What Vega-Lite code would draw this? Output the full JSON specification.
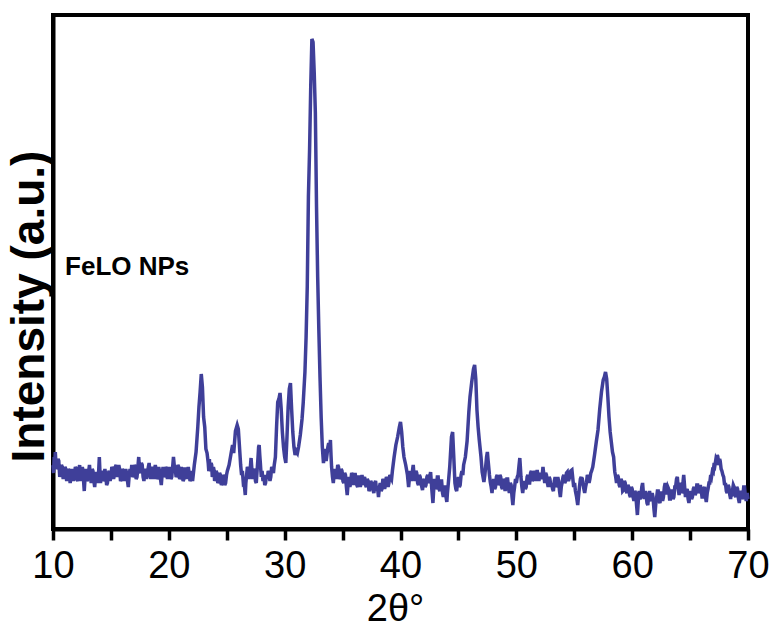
{
  "$schema": "https://vega.github.io/schema/vega-lite/v6.json",
  "width": 695,
  "height": 514,
  "autosize": "none",
  "padding": {"left": 53, "top": 15, "right": 21, "bottom": 100},
  "background": "white",
  "config": {
    "view": {"stroke": "black", "strokeWidth": 4},
    "axis": {"grid": false, "domainColor": "black", "domainWidth": 4}
  },
  "layer": [
    {
      "data": {"values": [
        {"t":10.0,"i":62},{"t":10.05,"i":54},{"t":10.1,"i":70},{"t":10.15,"i":64},{"t":10.2,"i":75},{"t":10.28,"i":58},{"t":10.35,"i":60},{"t":10.43,"i":68},{"t":10.5,"i":66},{"t":10.58,"i":50},{"t":10.65,"i":54},{"t":10.73,"i":62},{"t":10.8,"i":60},{"t":10.88,"i":48},{"t":10.95,"i":52},{"t":11.03,"i":60},{"t":11.1,"i":58},{"t":11.18,"i":46},{"t":11.25,"i":50},{"t":11.33,"i":58},{"t":11.4,"i":56},{"t":11.48,"i":44},{"t":11.55,"i":48},{"t":11.63,"i":58},{"t":11.7,"i":55},{"t":11.78,"i":46},{"t":11.85,"i":50},{"t":11.93,"i":60},{"t":12.0,"i":58},{"t":12.08,"i":48},{"t":12.15,"i":46},{"t":12.23,"i":58},{"t":12.3,"i":62},{"t":12.38,"i":46},{"t":12.45,"i":50},{"t":12.53,"i":60},{"t":12.6,"i":56},{"t":12.65,"i":44},{"t":12.7,"i":36},{"t":12.78,"i":52},{"t":12.85,"i":58},{"t":12.93,"i":46},{"t":13.0,"i":48},{"t":13.08,"i":56},{"t":13.15,"i":62},{"t":13.23,"i":50},{"t":13.3,"i":44},{"t":13.38,"i":58},{"t":13.45,"i":56},{"t":13.53,"i":46},{"t":13.6,"i":40},{"t":13.68,"i":52},{"t":13.75,"i":55},{"t":13.83,"i":44},{"t":13.9,"i":48},{"t":13.95,"i":58},{"t":14.0,"i":70},{"t":14.05,"i":56},{"t":14.1,"i":44},{"t":14.18,"i":54},{"t":14.25,"i":56},{"t":14.33,"i":46},{"t":14.4,"i":48},{"t":14.48,"i":58},{"t":14.55,"i":52},{"t":14.63,"i":42},{"t":14.7,"i":44},{"t":14.78,"i":54},{"t":14.85,"i":56},{"t":14.93,"i":46},{"t":15.0,"i":50},{"t":15.08,"i":60},{"t":15.15,"i":58},{"t":15.23,"i":48},{"t":15.3,"i":52},{"t":15.38,"i":60},{"t":15.45,"i":62},{"t":15.53,"i":50},{"t":15.6,"i":54},{"t":15.68,"i":62},{"t":15.75,"i":58},{"t":15.83,"i":46},{"t":15.9,"i":48},{"t":15.98,"i":58},{"t":16.05,"i":56},{"t":16.13,"i":46},{"t":16.2,"i":50},{"t":16.28,"i":58},{"t":16.35,"i":54},{"t":16.43,"i":46},{"t":16.5,"i":40},{"t":16.58,"i":52},{"t":16.65,"i":58},{"t":16.73,"i":52},{"t":16.8,"i":62},{"t":16.88,"i":50},{"t":16.95,"i":52},{"t":17.03,"i":62},{"t":17.1,"i":60},{"t":17.18,"i":48},{"t":17.25,"i":50},{"t":17.33,"i":60},{"t":17.4,"i":70},{"t":17.48,"i":56},{"t":17.55,"i":54},{"t":17.63,"i":64},{"t":17.7,"i":62},{"t":17.78,"i":50},{"t":17.85,"i":46},{"t":17.93,"i":56},{"t":18.0,"i":58},{"t":18.08,"i":48},{"t":18.15,"i":52},{"t":18.23,"i":60},{"t":18.3,"i":64},{"t":18.38,"i":52},{"t":18.45,"i":48},{"t":18.53,"i":58},{"t":18.6,"i":60},{"t":18.68,"i":48},{"t":18.75,"i":52},{"t":18.83,"i":62},{"t":18.9,"i":58},{"t":18.98,"i":48},{"t":19.05,"i":50},{"t":19.13,"i":60},{"t":19.2,"i":56},{"t":19.28,"i":48},{"t":19.35,"i":42},{"t":19.43,"i":54},{"t":19.5,"i":60},{"t":19.58,"i":50},{"t":19.65,"i":52},{"t":19.73,"i":60},{"t":19.8,"i":58},{"t":19.88,"i":48},{"t":19.95,"i":54},{"t":20.03,"i":60},{"t":20.1,"i":56},{"t":20.18,"i":48},{"t":20.25,"i":50},{"t":20.33,"i":60},{"t":20.4,"i":70},{"t":20.48,"i":60},{"t":20.55,"i":58},{"t":20.63,"i":50},{"t":20.7,"i":52},{"t":20.78,"i":62},{"t":20.85,"i":60},{"t":20.93,"i":48},{"t":21.0,"i":50},{"t":21.08,"i":60},{"t":21.15,"i":56},{"t":21.23,"i":46},{"t":21.3,"i":48},{"t":21.38,"i":58},{"t":21.45,"i":58},{"t":21.53,"i":48},{"t":21.6,"i":52},{"t":21.68,"i":60},{"t":21.75,"i":54},{"t":21.83,"i":46},{"t":21.9,"i":48},{"t":21.98,"i":56},{"t":22.05,"i":46},
        {"t":22.2,"i":62},{"t":22.35,"i":75},{"t":22.5,"i":100},{"t":22.6,"i":120},{"t":22.7,"i":135},{"t":22.8,"i":153},{"t":22.9,"i":140},{"t":23.0,"i":110},{"t":23.1,"i":100},{"t":23.2,"i":78},{"t":23.3,"i":74},
        {"t":23.4,"i":64},{"t":23.45,"i":56},{"t":23.5,"i":68},{"t":23.55,"i":58},{"t":23.6,"i":56},{"t":23.65,"i":64},{"t":23.7,"i":62},{"t":23.75,"i":50},{"t":23.8,"i":52},{"t":23.85,"i":60},{"t":23.9,"i":57},{"t":23.95,"i":46},{"t":24.0,"i":48},{"t":24.08,"i":56},{"t":24.15,"i":54},{"t":24.23,"i":44},{"t":24.3,"i":46},{"t":24.38,"i":54},{"t":24.45,"i":52},{"t":24.53,"i":42},{"t":24.6,"i":44},{"t":24.68,"i":52},{"t":24.75,"i":50},{"t":24.83,"i":42},{"t":24.9,"i":44},{"t":24.98,"i":52},{"t":25.05,"i":56},
        {"t":25.2,"i":62},{"t":25.35,"i":72},{"t":25.5,"i":82},{"t":25.6,"i":74},{"t":25.75,"i":96},{"t":25.9,"i":102},{"t":26.0,"i":98},{"t":26.1,"i":80},
        {"t":26.2,"i":62},{"t":26.28,"i":52},{"t":26.35,"i":56},{"t":26.43,"i":44},{"t":26.5,"i":45},{"t":26.55,"i":38},{"t":26.6,"i":32},{"t":26.65,"i":44},{"t":26.7,"i":50},{"t":26.78,"i":60},{"t":26.85,"i":58},{"t":26.93,"i":48},{"t":27.0,"i":52},{"t":27.05,"i":62},{"t":27.1,"i":69},{"t":27.18,"i":56},{"t":27.25,"i":48},{"t":27.33,"i":58},{"t":27.4,"i":56},{"t":27.48,"i":46},{"t":27.55,"i":44},{"t":27.63,"i":58},{"t":27.7,"i":70},{"t":27.75,"i":80},{"t":27.8,"i":82},{"t":27.85,"i":72},{"t":27.9,"i":64},{"t":27.98,"i":50},{"t":28.05,"i":56},{"t":28.13,"i":46},{"t":28.2,"i":52},{"t":28.28,"i":42},{"t":28.35,"i":44},{"t":28.43,"i":52},{"t":28.5,"i":48},{"t":28.58,"i":56},{"t":28.65,"i":54},{"t":28.73,"i":46},{"t":28.8,"i":50},{"t":28.88,"i":60},{"t":28.95,"i":58},{"t":29.03,"i":54},{"t":29.1,"i":62},
        {"t":29.2,"i":70},{"t":29.3,"i":100},{"t":29.4,"i":125},{"t":29.5,"i":128},{"t":29.6,"i":134},{"t":29.7,"i":118},{"t":29.8,"i":95},{"t":29.9,"i":80},{"t":30.0,"i":70},{"t":30.1,"i":64},{"t":30.2,"i":90},{"t":30.3,"i":120},{"t":30.4,"i":138},{"t":30.5,"i":144},{"t":30.6,"i":118},{"t":30.7,"i":95},{"t":30.8,"i":80},{"t":30.9,"i":72},{"t":31.0,"i":76},{"t":31.1,"i":74},{"t":31.2,"i":80},{"t":31.35,"i":92},{"t":31.5,"i":108},{"t":31.6,"i":124},{"t":31.75,"i":155},{"t":31.85,"i":190},{"t":31.95,"i":240},{"t":32.05,"i":330},{"t":32.15,"i":377},{"t":32.25,"i":440},{"t":32.35,"i":488},{"t":32.45,"i":485},{"t":32.55,"i":455},{"t":32.65,"i":414},{"t":32.75,"i":320},{"t":32.85,"i":250},{"t":32.95,"i":197},{"t":33.05,"i":150},{"t":33.15,"i":110},{"t":33.25,"i":80},
        {"t":33.35,"i":64},{"t":33.43,"i":72},{"t":33.5,"i":78},{"t":33.58,"i":66},{"t":33.65,"i":72},{"t":33.73,"i":80},{"t":33.8,"i":84},{"t":33.88,"i":76},{"t":33.95,"i":87},{"t":34.0,"i":72},{"t":34.05,"i":60},{"t":34.13,"i":50},{"t":34.2,"i":44},{"t":34.28,"i":54},{"t":34.35,"i":58},{"t":34.43,"i":48},{"t":34.5,"i":52},{"t":34.58,"i":62},{"t":34.65,"i":60},{"t":34.73,"i":48},{"t":34.8,"i":50},{"t":34.88,"i":58},{"t":34.95,"i":56},{"t":35.03,"i":46},{"t":35.1,"i":44},{"t":35.18,"i":54},{"t":35.25,"i":52},{"t":35.33,"i":40},{"t":35.4,"i":32},{"t":35.48,"i":44},{"t":35.55,"i":50},{"t":35.63,"i":40},{"t":35.7,"i":44},{"t":35.78,"i":54},{"t":35.85,"i":52},{"t":35.93,"i":42},{"t":36.0,"i":46},{"t":36.08,"i":54},{"t":36.15,"i":48},{"t":36.23,"i":42},{"t":36.3,"i":40},{"t":36.38,"i":50},{"t":36.45,"i":50},{"t":36.53,"i":40},{"t":36.6,"i":44},{"t":36.68,"i":52},{"t":36.75,"i":42},{"t":36.83,"i":48},{"t":36.9,"i":50},{"t":36.98,"i":42},{"t":37.05,"i":40},{"t":37.13,"i":48},{"t":37.2,"i":46},{"t":37.28,"i":36},{"t":37.35,"i":38},{"t":37.43,"i":46},{"t":37.5,"i":44},{"t":37.6,"i":38},{"t":37.7,"i":34},{"t":37.78,"i":44},{"t":37.85,"i":46},{"t":37.93,"i":36},{"t":38.0,"i":40},{"t":38.05,"i":36},{"t":38.1,"i":30},{"t":38.18,"i":40},{"t":38.25,"i":44},{"t":38.33,"i":36},{"t":38.4,"i":38},{"t":38.48,"i":48},{"t":38.55,"i":46},{"t":38.63,"i":38},{"t":38.7,"i":42},{"t":38.78,"i":50},{"t":38.85,"i":48},{"t":38.93,"i":40},{"t":39.0,"i":44},{"t":39.08,"i":52},{"t":39.15,"i":50},{"t":39.23,"i":48},{"t":39.3,"i":56},
        {"t":39.45,"i":70},{"t":39.6,"i":82},{"t":39.75,"i":90},{"t":39.9,"i":100},{"t":40.0,"i":105},{"t":40.1,"i":95},{"t":40.2,"i":80},{"t":40.3,"i":70},{"t":40.45,"i":62},
        {"t":40.6,"i":52},{"t":40.65,"i":46},{"t":40.7,"i":40},{"t":40.78,"i":50},{"t":40.85,"i":56},{"t":40.93,"i":46},{"t":41.0,"i":50},{"t":41.05,"i":58},{"t":41.1,"i":62},{"t":41.18,"i":50},{"t":41.25,"i":46},{"t":41.33,"i":56},{"t":41.4,"i":54},{"t":41.48,"i":44},{"t":41.55,"i":42},{"t":41.63,"i":52},{"t":41.7,"i":50},{"t":41.8,"i":42},{"t":41.9,"i":37},{"t":41.98,"i":46},{"t":42.05,"i":48},{"t":42.13,"i":40},{"t":42.2,"i":42},{"t":42.28,"i":50},{"t":42.35,"i":52},{"t":42.43,"i":44},{"t":42.5,"i":46},{"t":42.55,"i":52},{"t":42.6,"i":55},{"t":42.7,"i":38},{"t":42.8,"i":24},{"t":42.88,"i":40},{"t":42.95,"i":48},{"t":43.03,"i":38},{"t":43.1,"i":40},{"t":43.18,"i":50},{"t":43.25,"i":50},{"t":43.33,"i":38},{"t":43.4,"i":36},{"t":43.48,"i":46},{"t":43.55,"i":46},{"t":43.63,"i":34},{"t":43.7,"i":30},{"t":43.78,"i":40},{"t":43.85,"i":40},{"t":43.93,"i":30},{"t":44.0,"i":25},{"t":44.05,"i":34},{"t":44.1,"i":40},
        {"t":44.25,"i":60},{"t":44.4,"i":90},{"t":44.5,"i":95},{"t":44.6,"i":70},
        {"t":44.7,"i":44},{"t":44.78,"i":38},{"t":44.85,"i":36},{"t":44.93,"i":46},{"t":45.0,"i":50},{"t":45.08,"i":40},{"t":45.15,"i":42},{"t":45.23,"i":52},{"t":45.3,"i":56},{"t":45.38,"i":52},{"t":45.45,"i":62},
        {"t":45.6,"i":70},{"t":45.75,"i":86},{"t":45.9,"i":115},{"t":46.0,"i":130},{"t":46.15,"i":145},{"t":46.3,"i":158},{"t":46.4,"i":162},{"t":46.5,"i":148},{"t":46.6,"i":117},{"t":46.7,"i":100},{"t":46.8,"i":87},{"t":46.95,"i":70},{"t":47.05,"i":55},
        {"t":47.2,"i":45},{"t":47.28,"i":52},{"t":47.35,"i":60},{"t":47.43,"i":70},{"t":47.5,"i":75},{"t":47.55,"i":68},{"t":47.6,"i":62},{"t":47.68,"i":52},{"t":47.75,"i":45},{"t":47.83,"i":40},{"t":47.9,"i":34},{"t":47.98,"i":44},{"t":48.05,"i":48},{"t":48.13,"i":38},{"t":48.2,"i":40},{"t":48.28,"i":50},{"t":48.35,"i":52},{"t":48.43,"i":42},{"t":48.5,"i":44},{"t":48.58,"i":52},{"t":48.65,"i":50},{"t":48.73,"i":40},{"t":48.8,"i":38},{"t":48.88,"i":48},{"t":48.95,"i":46},{"t":49.03,"i":36},{"t":49.1,"i":40},{"t":49.18,"i":48},{"t":49.25,"i":48},{"t":49.33,"i":38},{"t":49.4,"i":34},{"t":49.48,"i":44},{"t":49.55,"i":42},{"t":49.63,"i":30},{"t":49.7,"i":22},{"t":49.78,"i":34},{"t":49.85,"i":40},{"t":49.93,"i":48},{"t":50.0,"i":44},{"t":50.08,"i":50},{"t":50.15,"i":52},{"t":50.22,"i":60},{"t":50.3,"i":69},{"t":50.35,"i":60},{"t":50.4,"i":50},{"t":50.48,"i":40},{"t":50.55,"i":34},{"t":50.63,"i":42},{"t":50.7,"i":46},{"t":50.78,"i":38},{"t":50.85,"i":40},{"t":50.93,"i":50},{"t":51.0,"i":52},{"t":51.08,"i":44},{"t":51.15,"i":44},{"t":51.23,"i":54},{"t":51.3,"i":56},{"t":51.38,"i":46},{"t":51.45,"i":48},{"t":51.53,"i":56},{"t":51.6,"i":54},{"t":51.7,"i":46},{"t":51.8,"i":57},{"t":51.88,"i":50},{"t":51.95,"i":46},{"t":52.03,"i":54},{"t":52.1,"i":52},{"t":52.2,"i":48},{"t":52.3,"i":60},{"t":52.38,"i":52},{"t":52.45,"i":44},{"t":52.53,"i":54},{"t":52.6,"i":52},{"t":52.68,"i":44},{"t":52.75,"i":40},{"t":52.83,"i":50},{"t":52.9,"i":48},{"t":52.98,"i":40},{"t":53.05,"i":44},{"t":53.13,"i":38},{"t":53.2,"i":36},{"t":53.28,"i":46},{"t":53.35,"i":50},{"t":53.43,"i":40},{"t":53.5,"i":42},{"t":53.58,"i":50},{"t":53.65,"i":46},{"t":53.73,"i":36},{"t":53.8,"i":30},{"t":53.88,"i":40},{"t":53.95,"i":44},{"t":54.03,"i":50},{"t":54.1,"i":52},{"t":54.18,"i":44},{"t":54.25,"i":46},{"t":54.33,"i":54},{"t":54.4,"i":55},{"t":54.5,"i":46},{"t":54.6,"i":50},{"t":54.7,"i":56},{"t":54.8,"i":57},{"t":54.88,"i":48},{"t":54.95,"i":40},{"t":55.03,"i":44},{"t":55.1,"i":36},{"t":55.2,"i":30},{"t":55.3,"i":22},{"t":55.38,"i":32},{"t":55.45,"i":40},{"t":55.53,"i":48},{"t":55.6,"i":50},{"t":55.68,"i":42},{"t":55.75,"i":44},{"t":55.83,"i":38},{"t":55.9,"i":34},{"t":55.98,"i":40},{"t":56.05,"i":44},{"t":56.13,"i":52},{"t":56.2,"i":50},{"t":56.28,"i":44},{"t":56.35,"i":48},{"t":56.43,"i":54},{"t":56.5,"i":56},
        {"t":56.6,"i":60},{"t":56.75,"i":72},{"t":56.9,"i":85},{"t":57.05,"i":97},{"t":57.2,"i":118},{"t":57.35,"i":135},{"t":57.5,"i":147},{"t":57.6,"i":150},{"t":57.7,"i":155},{"t":57.8,"i":148},{"t":57.9,"i":130},{"t":58.0,"i":110},{"t":58.1,"i":95},{"t":58.2,"i":85},{"t":58.3,"i":75},
        {"t":58.4,"i":70},{"t":58.45,"i":62},{"t":58.5,"i":55},{"t":58.58,"i":50},{"t":58.65,"i":44},{"t":58.73,"i":52},{"t":58.8,"i":50},{"t":58.88,"i":42},{"t":58.95,"i":40},{"t":59.03,"i":48},{"t":59.1,"i":46},{"t":59.18,"i":36},{"t":59.25,"i":37},{"t":59.33,"i":46},{"t":59.4,"i":44},{"t":59.48,"i":36},{"t":59.55,"i":34},{"t":59.63,"i":42},{"t":59.7,"i":40},{"t":59.78,"i":32},{"t":59.85,"i":30},{"t":59.93,"i":40},{"t":60.0,"i":38},{"t":60.08,"i":30},{"t":60.15,"i":26},{"t":60.23,"i":36},{"t":60.3,"i":34},{"t":60.38,"i":22},{"t":60.45,"i":12},{"t":60.53,"i":26},{"t":60.6,"i":36},{"t":60.68,"i":28},{"t":60.75,"i":30},{"t":60.83,"i":40},{"t":60.9,"i":44},{"t":60.98,"i":32},{"t":61.05,"i":28},{"t":61.13,"i":36},{"t":61.2,"i":32},{"t":61.28,"i":24},{"t":61.35,"i":22},{"t":61.43,"i":32},{"t":61.5,"i":36},{"t":61.58,"i":28},{"t":61.65,"i":26},{"t":61.73,"i":34},{"t":61.8,"i":30},{"t":61.88,"i":18},{"t":61.95,"i":10},{"t":62.03,"i":22},{"t":62.1,"i":28},{"t":62.18,"i":36},{"t":62.25,"i":36},{"t":62.33,"i":26},{"t":62.4,"i":24},{"t":62.48,"i":34},{"t":62.55,"i":34},{"t":62.63,"i":26},{"t":62.7,"i":30},{"t":62.78,"i":40},{"t":62.85,"i":44},{"t":62.93,"i":34},{"t":63.0,"i":34},{"t":63.08,"i":40},{"t":63.15,"i":38},{"t":63.23,"i":28},{"t":63.3,"i":28},{"t":63.38,"i":36},{"t":63.45,"i":36},{"t":63.53,"i":28},{"t":63.6,"i":30},{"t":63.68,"i":40},{"t":63.75,"i":40},{"t":63.83,"i":48},{"t":63.9,"i":50},{"t":63.98,"i":38},{"t":64.05,"i":32},{"t":64.13,"i":42},{"t":64.2,"i":44},{"t":64.28,"i":34},{"t":64.35,"i":36},{"t":64.4,"i":46},{"t":64.45,"i":52},{"t":64.53,"i":40},{"t":64.6,"i":30},{"t":64.68,"i":36},{"t":64.75,"i":38},{"t":64.83,"i":28},{"t":64.9,"i":24},{"t":64.98,"i":32},{"t":65.05,"i":36},{"t":65.13,"i":28},{"t":65.2,"i":30},{"t":65.28,"i":38},{"t":65.35,"i":40},{"t":65.43,"i":32},{"t":65.5,"i":34},{"t":65.58,"i":42},{"t":65.65,"i":42},{"t":65.73,"i":34},{"t":65.8,"i":36},{"t":65.88,"i":42},{"t":65.95,"i":38},{"t":66.03,"i":30},{"t":66.1,"i":30},{"t":66.18,"i":38},{"t":66.25,"i":40},{"t":66.33,"i":30},{"t":66.4,"i":25},{"t":66.48,"i":34},{"t":66.55,"i":38},{"t":66.63,"i":44},{"t":66.7,"i":44},{"t":66.78,"i":52},{"t":66.85,"i":50},{"t":66.93,"i":56},{"t":67.0,"i":55},{"t":67.08,"i":64},{"t":67.15,"i":62},{"t":67.23,"i":68},{"t":67.3,"i":66},{"t":67.35,"i":72},{"t":67.4,"i":70},{"t":67.45,"i":62},{"t":67.5,"i":64},{"t":67.55,"i":68},{"t":67.6,"i":66},{"t":67.68,"i":58},{"t":67.75,"i":56},{"t":67.83,"i":52},{"t":67.9,"i":50},{"t":67.98,"i":42},{"t":68.05,"i":44},{"t":68.13,"i":36},{"t":68.2,"i":34},{"t":68.28,"i":42},{"t":68.35,"i":40},{"t":68.43,"i":32},{"t":68.5,"i":28},{"t":68.58,"i":38},{"t":68.65,"i":36},{"t":68.73,"i":42},{"t":68.8,"i":40},{"t":68.88,"i":32},{"t":68.95,"i":30},{"t":69.03,"i":40},{"t":69.1,"i":38},{"t":69.18,"i":28},{"t":69.25,"i":24},{"t":69.33,"i":34},{"t":69.4,"i":36},{"t":69.48,"i":28},{"t":69.55,"i":30},{"t":69.63,"i":40},{"t":69.7,"i":40},{"t":69.78,"i":30},{"t":69.85,"i":26},{"t":69.93,"i":34},{"t":70.0,"i":28}
      ]},
      "mark": {"type": "line", "color": "#3f3f99", "strokeWidth": 3.5, "strokeJoin": "miter"},
      "encoding": {
        "x": {
          "field": "t", "type": "quantitative",
          "scale": {"domain": [10, 70], "nice": false, "zero": false},
          "axis": {
            "values": [10, 15, 20, 25, 30, 35, 40, 45, 50, 55, 60, 65, 70],
            "labelExpr": "datum.value % 10 === 0 ? datum.label : ''",
            "tickSize": 11,
            "tickWidth": 3.5,
            "tickColor": "black",
            "labelFont": "Liberation Sans, Arial",
            "labelFontSize": 38,
            "labelColor": "black",
            "labelBaseline": "alphabetic",
            "labelPadding": 37,
            "labelFlush": false,
            "labelOverlap": false,
            "title": "2θ°",
            "titleFont": "Liberation Sans, Arial",
            "titleFontSize": 38,
            "titleFontWeight": "normal",
            "titleColor": "black",
            "titleBaseline": "alphabetic",
            "titleAlign": "center",
            "titleX": 342,
            "titleY": 91,
            "encode": {"ticks": {"update": {"y2": {"signal": "datum.value % 10 === 0 ? 11 : 5"}}}}
          }
        },
        "y": {
          "field": "i", "type": "quantitative",
          "scale": {"domain": [-2, 512], "nice": false, "zero": false},
          "axis": {
            "ticks": false,
            "labels": false,
            "title": "Intensity (a.u.)",
            "titleFont": "Liberation Sans, Arial",
            "titleFontSize": 46,
            "titleFontWeight": "bold",
            "titleColor": "black",
            "titleBaseline": "alphabetic",
            "titleAlign": "center",
            "titleAngle": -90,
            "titleX": -10,
            "titleY": 291
          }
        }
      }
    },
    {
      "data": {"values": [{"t": 11.04, "i": 252, "label": "FeLO NPs"}]},
      "mark": {"type": "text", "align": "left", "baseline": "alphabetic", "font": "Liberation Sans, Arial", "fontSize": 26, "fontWeight": "bold", "color": "black"},
      "encoding": {
        "x": {"field": "t", "type": "quantitative"},
        "y": {"field": "i", "type": "quantitative"},
        "text": {"field": "label"}
      }
    }
  ]
}
